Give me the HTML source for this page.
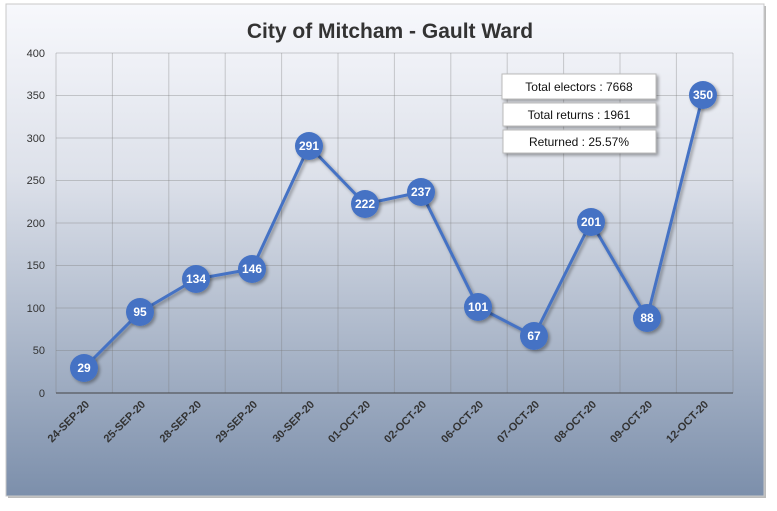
<!DOCTYPE html>
<html><head><style>
body{margin:0;width:777px;height:506px;background:#fff;overflow:hidden;font-family:"Liberation Sans",sans-serif}
</style></head><body>
<svg width="777" height="506" xmlns="http://www.w3.org/2000/svg" font-family="Liberation Sans, sans-serif">
<defs>
<linearGradient id="bg" x1="0" y1="0" x2="0" y2="1">
<stop offset="0" stop-color="#f7f8fc"/>
<stop offset="0.35" stop-color="#dde1ea"/>
<stop offset="0.7" stop-color="#a9b5c8"/>
<stop offset="1" stop-color="#7c8fab"/>
</linearGradient>
<filter id="sh" x="-20%" y="-20%" width="150%" height="150%"><feDropShadow dx="2" dy="2" stdDeviation="1.5" flood-color="#000" flood-opacity="0.35"/></filter>
</defs>
<rect x="8" y="6" width="758" height="492" fill="#bbb"/>
<rect x="6" y="4" width="758" height="492" fill="url(#bg)" stroke="#c8c8c8"/>
<text x="390" y="38" text-anchor="middle" font-size="21" font-weight="bold" fill="#333">City of Mitcham - Gault Ward</text>
<g stroke="#777" stroke-opacity="0.35" stroke-width="1">
<line x1="56" y1="53" x2="733" y2="53"/><line x1="56" y1="95.5" x2="733" y2="95.5"/><line x1="56" y1="138" x2="733" y2="138"/><line x1="56" y1="180.5" x2="733" y2="180.5"/><line x1="56" y1="223" x2="733" y2="223"/><line x1="56" y1="265.5" x2="733" y2="265.5"/><line x1="56" y1="308" x2="733" y2="308"/><line x1="56" y1="350.5" x2="733" y2="350.5"/>
<line x1="56" y1="53" x2="56" y2="393"/><line x1="112.4" y1="53" x2="112.4" y2="393"/><line x1="168.8" y1="53" x2="168.8" y2="393"/><line x1="225.2" y1="53" x2="225.2" y2="393"/><line x1="281.6" y1="53" x2="281.6" y2="393"/><line x1="338" y1="53" x2="338" y2="393"/><line x1="394.4" y1="53" x2="394.4" y2="393"/><line x1="450.8" y1="53" x2="450.8" y2="393"/><line x1="507.2" y1="53" x2="507.2" y2="393"/><line x1="563.6" y1="53" x2="563.6" y2="393"/><line x1="620" y1="53" x2="620" y2="393"/><line x1="676.4" y1="53" x2="676.4" y2="393"/><line x1="733" y1="53" x2="733" y2="393"/>
</g>
<line x1="56" y1="393" x2="733" y2="393" stroke="#444" stroke-width="1"/>
<g font-size="11" fill="#333" text-anchor="end">
<text x="45" y="57">400</text><text x="45" y="99">350</text><text x="45" y="142">300</text><text x="45" y="184">250</text><text x="45" y="227">200</text><text x="45" y="269">150</text><text x="45" y="312">100</text><text x="45" y="354">50</text><text x="45" y="397">0</text>
</g>
<g font-size="11" font-weight="bold" fill="#333" text-anchor="end">
<text transform="translate(90,405) rotate(-45)">24-SEP-20</text>
<text transform="translate(146,405) rotate(-45)">25-SEP-20</text>
<text transform="translate(202,405) rotate(-45)">28-SEP-20</text>
<text transform="translate(258,405) rotate(-45)">29-SEP-20</text>
<text transform="translate(315,405) rotate(-45)">30-SEP-20</text>
<text transform="translate(371,405) rotate(-45)">01-OCT-20</text>
<text transform="translate(427,405) rotate(-45)">02-OCT-20</text>
<text transform="translate(484,405) rotate(-45)">06-OCT-20</text>
<text transform="translate(540,405) rotate(-45)">07-OCT-20</text>
<text transform="translate(597,405) rotate(-45)">08-OCT-20</text>
<text transform="translate(653,405) rotate(-45)">09-OCT-20</text>
<text transform="translate(709,405) rotate(-45)">12-OCT-20</text>
</g>
<polyline filter="url(#sh)" fill="none" stroke="#4472c4" stroke-width="3" points="84,368 140,312 196,279 252,269 309,146 365,204 421,192 478,307 534,336 591,222 647,318 703,95"/>
<g fill="#4472c4" filter="url(#sh)">
<circle cx="84" cy="368" r="14"/><circle cx="140" cy="312" r="14"/><circle cx="196" cy="279" r="14"/><circle cx="252" cy="269" r="14"/><circle cx="309" cy="146" r="14"/><circle cx="365" cy="204" r="14"/><circle cx="421" cy="192" r="14"/><circle cx="478" cy="307" r="14"/><circle cx="534" cy="336" r="14"/><circle cx="591" cy="222" r="14"/><circle cx="647" cy="318" r="14"/><circle cx="703" cy="95" r="14"/>
</g>
<g font-size="12" font-weight="bold" fill="#fff" text-anchor="middle">
<text x="84" y="372">29</text><text x="140" y="316">95</text><text x="196" y="283">134</text><text x="252" y="273">146</text><text x="309" y="150">291</text><text x="365" y="208">222</text><text x="421" y="196">237</text><text x="478" y="311">101</text><text x="534" y="340">67</text><text x="591" y="226">201</text><text x="647" y="322">88</text><text x="703" y="99">350</text>
</g>
<g filter="url(#sh)" fill="#fff" stroke="#bbb">
<rect x="502" y="74" width="154" height="25"/>
<rect x="503" y="103" width="153" height="23"/>
<rect x="503" y="130" width="153" height="23"/>
</g>
<g font-size="12" fill="#111" text-anchor="middle">
<text x="579" y="91">Total electors : 7668</text>
<text x="579" y="119">Total returns : 1961</text>
<text x="579" y="146">Returned : 25.57%</text>
</g>
</svg>
</body></html>
